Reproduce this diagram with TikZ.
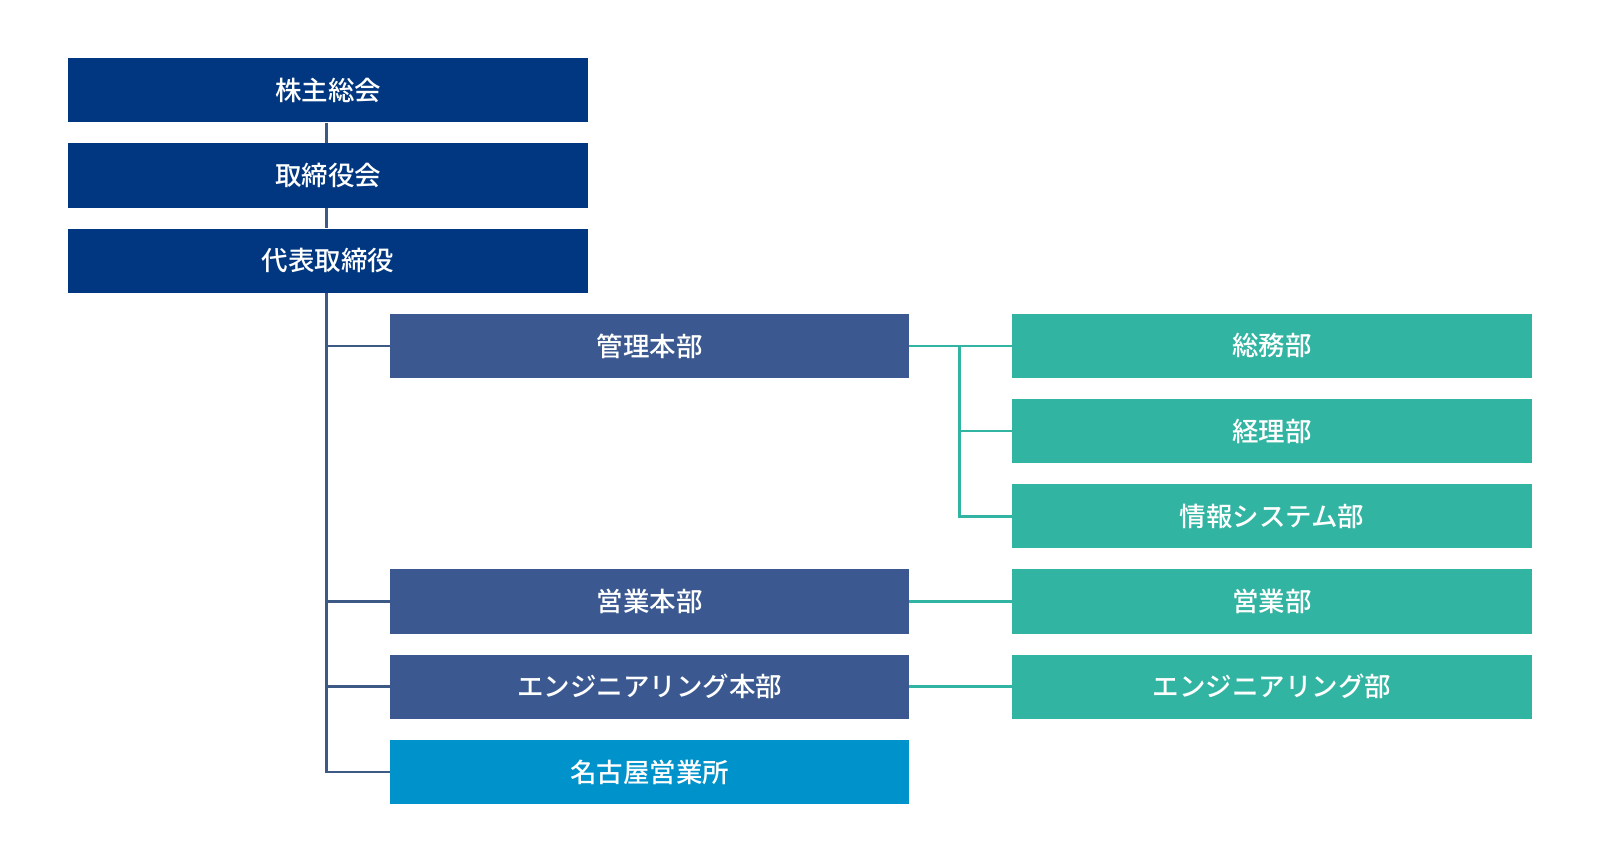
\documentclass[tikz,border=0pt]{standalone}
\usepackage{fontspec}
\newfontfamily\jp{Noto Sans CJK JP}[UprightFont={* Medium}]
\definecolor{navy}{HTML}{003780}
\definecolor{slate}{HTML}{3B5990}
\definecolor{teal}{HTML}{32B4A2}
\definecolor{sky}{HTML}{0093CB}
\definecolor{trunkcol}{HTML}{3D5A86}
\tikzset{
  box/.style={rectangle, minimum width=519.4pt, minimum height=64.3pt, inner sep=0pt,
    text=white, font=\jp\fontsize{26.5}{30}\selectfont},
  topbox/.style={box, fill=navy},
  midbox/.style={box, fill=slate},
  rbox/.style={box, fill=teal},
  nbox/.style={box, fill=sky},
  trunkline/.style={draw=trunkcol, line width=2.6pt},
  tealline/.style={draw=teal, line width=2.6pt}
}
\begin{document}
\begin{tikzpicture}[x=1pt,y=-1pt]
\useasboundingbox (0,0) rectangle (1600,861);
\node[topbox] (kabu) at (328.1,90.3) {株主総会};
\node[topbox] (tori) at (328.1,175.5) {取締役会};
\node[topbox] (daihyo) at (328.1,260.7) {代表取締役};
\node[midbox] (kanri) at (649.5,345.9) {管理本部};
\node[midbox] (eigyohq) at (649.5,601.5) {営業本部};
\node[midbox] (enghq) at (649.5,686.7) {エンジニアリング本部};
\node[nbox] (nagoya) at (649.5,771.9) {名古屋営業所};
\node[rbox] (soumu) at (1272,345.9) {総務部};
\node[rbox] (keiri) at (1272,431.1) {経理部};
\node[rbox] (joho) at (1272,516.3) {情報システム部};
\node[rbox] (eigyo) at (1272,601.5) {営業部};
\node[rbox] (eng) at (1272,686.7) {エンジニアリング部};
\coordinate (t1) at ([xshift=-1.6pt]kabu.south);
\coordinate (t2) at ([xshift=-1.6pt]tori.south);
\coordinate (t3) at ([xshift=-1.6pt]daihyo.south);
\draw[trunkline] (t1) -- (t1 |- tori.north);
\draw[trunkline] (t2) -- (t2 |- daihyo.north);
\draw[trunkline] (t3) |- (nagoya.west);
\draw[trunkline] (t3) |- (kanri.west);
\draw[trunkline] (t3) |- (eigyohq.west);
\draw[trunkline] (t3) |- (enghq.west);
\coordinate (tj) at (959.2,345.9);
\draw[tealline] (kanri.east) -- (soumu.west);
\draw[tealline] (tj) |- (keiri.west);
\draw[tealline] (tj) |- (joho.west);
\draw[tealline] (eigyohq.east) -- (eigyo.west);
\draw[tealline] (enghq.east) -- (eng.west);
\end{tikzpicture}
\end{document}
